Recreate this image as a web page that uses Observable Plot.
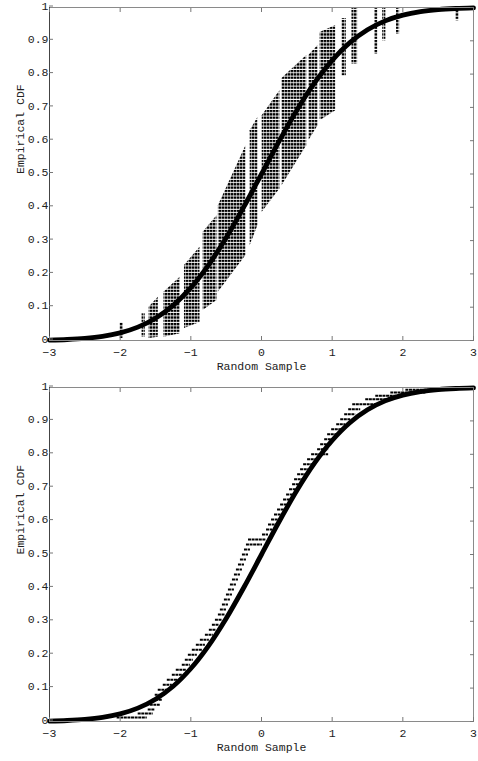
<!DOCTYPE html>
<html>
<head>
<meta charset="utf-8">
<script src="https://cdn.jsdelivr.net/npm/d3@7"></script>
<script src="https://cdn.jsdelivr.net/npm/@observablehq/plot@0.6"></script>
<style>
  html, body { margin: 0; padding: 0; background: #fff; }
  #wrap { width: 478px; }
  #wrap svg { display: block; }
</style>
</head>
<body>
<div id="wrap"></div>
<script>
// ---- tick labels ----
const xTicks = [-3, -2, -1, 0, 1, 2, 3];
const yTicks = [0, 0.1, 0.2, 0.3, 0.4, 0.5, 0.6, 0.7, 0.8, 0.9, 1];
const xLabel = "Random Sample";
const yLabel = "Empirical CDF";

// ---- theoretical CDF curve ----
const curveX = [-3, -2.75, -2.5, -2.25, -2, -1.75, -1.5, -1.25, -1, -0.75, -0.5, -0.25, 0,
                0.25, 0.5, 0.75, 1, 1.25, 1.5, 1.75, 2, 2.25, 2.5, 2.75, 3];
const curveY = [0.0013, 0.003, 0.0062, 0.0122, 0.0228, 0.0401, 0.0668, 0.1056, 0.1587, 0.2266, 0.3085, 0.4013, 0.5,
                0.5987, 0.6915, 0.7734, 0.8413, 0.8944, 0.9332, 0.9599, 0.9772, 0.9878, 0.9938, 0.997, 0.9987];

// ---- top panel: clusters of empirical CDF dots (left/right edge of each cluster) ----
const bandCluster = [1,1, 2,2, 3,3, 4,4, 5,5, 6,6, 7,7, 8,8, 9,9, 10,10, 11,11, 12,12, 13,13, 14,14, 15,15, 16,16, 17,17, 18,18];
const bandX  = [-2.00,-1.955, -1.69,-1.645, -1.59,-1.46, -1.38,-1.15, -1.09,-0.87, -0.825,-0.63, -0.61,-0.22, -0.16,-0.05,
                0.01,0.26, 0.29,0.64, 0.67,0.80, 0.83,1.05, 1.14,1.20, 1.28,1.36, 1.60,1.645, 1.715,1.76, 1.91,1.955, 2.75,2.795];
const bandLo = [0.006,0.006, 0.01,0.01, 0.006,0.01, 0.01,0.02, 0.036,0.054, 0.09,0.12, 0.145,0.255, 0.285,0.345,
                0.385,0.455, 0.465,0.585, 0.60,0.645, 0.66,0.69, 0.795,0.795, 0.83,0.83, 0.86,0.86, 0.90,0.90, 0.92,0.92, 0.96,0.96];
const bandHi = [0.054,0.054, 0.08,0.08, 0.10,0.13, 0.145,0.19, 0.225,0.28, 0.325,0.375, 0.405,0.585, 0.63,0.67,
                0.675,0.75, 0.787,0.856, 0.856,0.886, 0.925,0.946, 0.967,0.967, 1.0,1.0, 1.0,1.0, 1.0,1.0, 1.0,1.0, 1.0,1.0];

// ---- bottom panel: empirical CDF steps (x start, x end, level) ----
const stepY  = [0.012,0.024,0.036,0.05,0.065,0.08,0.095,0.11,0.125,0.14,0.155,0.17,0.185,0.2,0.215,0.23,0.245,0.26,0.275,0.29,
                0.305,0.32,0.335,0.35,0.365,0.38,0.395,0.41,0.425,0.44,0.455,0.47,0.485,0.50,0.515,0.53,0.545,0.56,0.575,0.59,
                0.605,0.62,0.635,0.65,0.665,0.68,0.695,0.71,0.725,0.74,0.755,0.77,0.785,0.80,0.815,0.83,0.845,0.86,0.875,0.89,
                0.905,0.92,0.935,0.95,0.965,0.975,0.985,0.993,0.998];
const stepX1 = [-2.043,-1.745,-1.603,-1.574,-1.546,-1.504,-1.461,-1.390,-1.333,-1.262,-1.206,-1.121,-1.078,-1.035,-0.979,-0.922,-0.865,-0.794,-0.738,-0.695,
                -0.652,-0.610,-0.582,-0.553,-0.525,-0.496,-0.468,-0.440,-0.411,-0.383,-0.355,-0.326,-0.298,-0.270,-0.241,-0.213,-0.184,0.014,0.071,0.099,
                0.142,0.184,0.227,0.270,0.312,0.355,0.397,0.440,0.468,0.511,0.553,0.596,0.652,0.709,0.794,0.837,0.894,0.936,0.993,1.064,
                1.121,1.177,1.234,1.291,1.475,1.617,1.830,2.043,2.496];
const stepX2 = [-1.617,-1.532,-1.504,-1.433,-1.404,-1.362,-1.319,-1.262,-1.177,-1.121,-1.064,-1.007,-0.965,-0.908,-0.837,-0.794,-0.738,-0.681,-0.638,-0.596,
                -0.553,-0.511,-0.496,-0.468,-0.440,-0.411,-0.383,-0.355,-0.326,-0.298,-0.270,-0.241,-0.213,-0.184,-0.156,0.014,0.071,0.099,0.156,0.213,
                0.255,0.284,0.326,0.369,0.411,0.454,0.496,0.539,0.582,0.624,0.667,0.723,0.809,0.950,0.950,0.993,1.035,1.078,1.135,1.191,
                1.262,1.333,1.404,1.660,1.830,2.043,2.326,2.539,3.0];

// ---- build tables ----
const curve = curveX.map((x, i) => ({x, y: curveY[i]}));
const band = bandX.map((x, i) => ({c: bandCluster[i], x, lo: bandLo[i], hi: bandHi[i]}));
const steps = stepY.map((y, i) => ({y, x1: stepX1[i], x2: stepX2[i]}));

const font = {fontFamily: "'Liberation Mono', 'DejaVu Sans Mono', monospace", fontSize: "11.5px", color: "#222", background: "#fff"};

function panel(height, dataMarks) {
  return Plot.plot({
    width: 478,
    height,
    marginTop: 7,
    marginBottom: 40,
    marginLeft: 49,
    marginRight: 5,
    style: font,
    x: {domain: [-3, 3], label: null},
    y: {domain: [0, 1], label: null},
    marks: [
      ...dataMarks,
      Plot.line(curve, {x: "x", y: "y", stroke: "#000", strokeWidth: 4.8, curve: "catmull-rom"}),
      Plot.frame({stroke: "#8a8a8a"}),
      Plot.ruleX([-3], {stroke: "#444"}),
      Plot.axisX(xTicks, {anchor: "bottom", tickSize: -4, tickPadding: 11, label: null, stroke: "#777", tickFormat: d => String(d).replace("-", "\u2212")}),
      Plot.axisX(xTicks, {anchor: "top", tickSize: -4, label: null, stroke: "#777", tickFormat: () => ""}),
      Plot.axisY(yTicks, {anchor: "left", tickSize: -4, tickPadding: 5, dy: -1.5, label: null, stroke: "#777", tickFormat: d => String(d)}),
      Plot.axisY(yTicks, {anchor: "right", tickSize: -4, label: null, stroke: "#777", tickFormat: () => ""}),
      Plot.text([xLabel], {frameAnchor: "bottom", dy: 29, text: d => d}),
      Plot.text([yLabel], {frameAnchor: "left", rotate: -90, dx: -29, text: d => d})
    ]
  });
}

const topSvg = panel(380, [
  Plot.areaY(band, {x: "x", y1: "lo", y2: "hi", z: "c", fill: "url(#dots)", curve: "linear"})
]);
const defs = document.createElementNS("http://www.w3.org/2000/svg", "defs");
defs.innerHTML = '<pattern id="dots" patternUnits="userSpaceOnUse" width="3" height="3.33"><rect width="2.5" height="2.3" fill="#000"/></pattern>';
topSvg.insertBefore(defs, topSvg.firstChild);

const bottomSvg = panel(381, [
  Plot.ruleY(steps, {y: "y", x1: "x1", x2: "x2", stroke: "#000", strokeWidth: 2, strokeDasharray: "3,0.6"})
]);

document.getElementById("wrap").append(topSvg, bottomSvg);
</script>
</body>
</html>
